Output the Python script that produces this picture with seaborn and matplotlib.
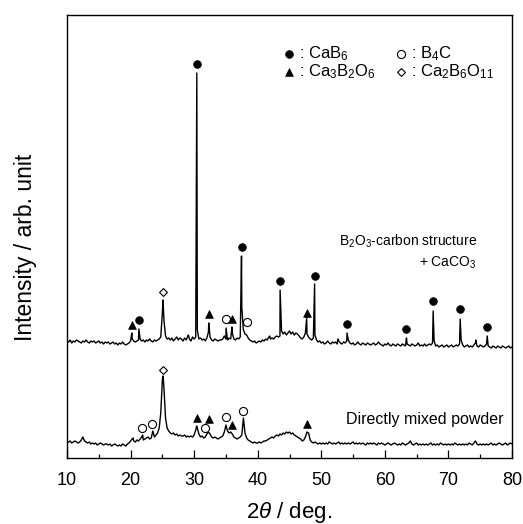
import numpy as np
import pandas as pd
import matplotlib
matplotlib.use("Agg")
import matplotlib.pyplot as plt
import seaborn as sns

# ---------------- data ----------------
# 2-theta scan grid (deg), 0.25 deg step from 10 to 80
scan_2theta = np.linspace(10, 80, 281)

# Upper pattern: B2O3-carbon structure + CaCO3 (baseline read on the grid)
upper_grid = [117,
    116,118,115,117,116,118,117,116,
    115,117,116,118,116,115,117,116,
    117,115,116,117,115,116,114,116,
    115,116,114,115,116,114,115,113,
    115,114,116,114,113,114,115,117,
    119,117,116,117,118,119,117,118,
    116,118,117,119,117,116,118,117,
    118,119,121,145,138,122,119,120,
    118,120,117,119,121,118,120,119,
    117,120,118,122,119,117,121,119,
    121,128,119,120,118,119,117,120,
    126,121,118,117,119,118,117,118,
    118,119,122,119,118,120,119,125,
    119,118,120,119,121,150,128,124,
    123,120,118,117,116,117,115,116,
    117,116,118,117,119,118,121,119,
    120,119,121,122,121,122,127,124,
    126,123,125,127,124,126,123,125,
    124,122,120,119,121,125,124,121,
    119,118,120,123,118,116,117,115,
    116,114,115,117,115,114,116,115,
    116,114,117,115,114,116,115,117,
    118,115,114,115,113,114,116,114,
    113,115,114,113,115,114,113,114,
    115,113,114,116,114,113,112,114,
    113,115,113,112,114,113,112,114,
    113,112,114,113,112,114,113,112,
    114,113,112,113,115,112,113,112,
    114,112,113,114,113,115,117,112,
    113,111,112,113,111,112,113,111,
    112,113,111,112,113,112,114,118,
    113,111,112,113,111,112,111,113,
    115,112,111,113,112,111,112,114,
    112,111,110,112,111,110,112,111,
    110,112,111,110,111,112,110,111]
# sharp peak tips of the upper pattern
upper_peak_2theta = [20.2, 21.3, 25.1, 29.1, 30.42, 32.3, 35.02, 35.95, 37.45,
                     41.9, 43.52, 47.7, 48.95, 52.6, 54.05, 63.4, 67.6, 71.85,
                     74.3, 76.1]
upper_peak_int = [125, 129, 158, 123, 385, 135, 130, 131, 202,
                  122, 168, 140, 174, 119, 125, 120, 147, 139,
                  118, 122]

# Lower pattern: directly mixed powder
lower_grid = [15,
    16,17,15,16,17,16,15,16,
    18,21,17,16,15,16,14,15,
    14,15,13,14,15,14,13,14,
    14,13,14,12,13,14,13,12,
    13,12,14,13,12,14,15,17,
    19,17,16,18,17,19,21,18,
    19,20,21,19,20,27,21,23,
    25,30,45,78,70,40,30,27,
    25,24,25,23,24,22,23,22,
    22,23,21,22,21,22,21,23,
    28,30,24,21,22,20,21,24,
    26,24,21,20,21,20,19,20,
    21,22,26,33,27,25,26,24,
    21,20,19,20,21,23,40,25,
    20,18,17,16,15,16,15,15,
    16,15,16,17,17,18,19,20,
    21,20,22,23,22,24,23,25,
    24,26,25,26,24,25,23,22,
    21,20,19,17,18,21,26,25,
    18,16,15,16,15,14,15,14,
    15,14,15,14,16,15,14,15,
    14,15,16,14,15,14,15,14,
    15,14,15,16,14,15,14,15,
    14,15,14,13,15,14,15,14,
    15,14,13,15,14,15,14,13,
    14,15,14,13,14,15,14,13,
    14,13,15,14,13,14,15,17,
    14,13,14,15,13,14,13,14,
    13,14,13,14,15,13,14,13,
    14,13,15,14,13,14,13,14,
    13,14,13,15,14,13,14,13,
    14,13,14,13,15,14,13,15,
    17,14,13,14,13,14,13,14,
    13,14,15,13,14,13,14,15,
    14,13,14,15,13,14,15,14]
lower_peak_2theta = [20.4, 21.9, 25.12, 30.4]
lower_peak_int = [20, 23, 82, 32]

# Phase markers (2theta, marker height)
phases = ["CaB6", "B4C", "Ca3B2O6", "Ca2B6O11"]
phase_labels = [": CaB$_6$", ": B$_4$C", ": Ca$_3$B$_2$O$_6$", ": Ca$_2$B$_6$O$_{11}$"]
mark_CaB6_x = [21.35, 30.4, 37.5, 43.5, 49.0, 54.05, 63.4, 67.6, 71.8, 76.0]
mark_CaB6_y = [138, 394, 211, 177, 182, 134, 129, 157, 149, 131]
mark_B4C_x = [35.0, 38.36, 21.8, 23.37, 31.75, 34.96, 37.74]
mark_B4C_y = [139, 136, 30, 34, 30, 41, 47]
mark_Ca3B2O6_x = [20.3, 32.3, 36.0, 47.75, 30.4, 32.35, 35.95, 47.75]
mark_Ca3B2O6_y = [133, 144, 139, 145, 40, 39, 33, 34]
mark_Ca2B6O11_x = [25.05, 25.05]
mark_Ca2B6O11_y = [166, 88]

sample_labels = ["B$_2$O$_3$-carbon structure\n+ CaCO$_3$", "Directly mixed powder"]

# ---------------- style ----------------
sns.set_style("ticks")
plt.rcParams["font.family"] = ["Liberation Sans", "DejaVu Sans"]
plt.rcParams["mathtext.fontset"] = "custom"
plt.rcParams["mathtext.rm"] = "Liberation Sans"
plt.rcParams["mathtext.it"] = "Liberation Sans:italic"
plt.rcParams["mathtext.bf"] = "Liberation Sans:bold"
plt.rcParams["text.color"] = "black"
plt.rcParams["axes.labelcolor"] = "black"
plt.rcParams["xtick.color"] = "black"
plt.rcParams["ytick.color"] = "black"

fig = plt.figure(figsize=(5.23, 5.24), dpi=100)
ax = fig.add_axes([67/523, 66/524, 445/523, 443/524])

def pattern_frame(grid, px, py):
    df = pd.DataFrame({"two_theta": np.concatenate([scan_2theta, px]),
                       "intensity": np.concatenate([np.array(grid, float), py])})
    return df.sort_values("two_theta", kind="stable").reset_index(drop=True)

up = pattern_frame(upper_grid, upper_peak_2theta, upper_peak_int)
lo = pattern_frame(lower_grid, lower_peak_2theta, lower_peak_int)
for df in (up, lo):
    sns.lineplot(data=df, x="two_theta", y="intensity", color="black",
                 linewidth=1.0, estimator=None, sort=False, ax=ax)

marker_style = {
    "CaB6": dict(marker="o", s=30, facecolor="black", edgecolor="black", linewidth=0.6),
    "B4C": dict(marker="o", s=34, facecolor="white", edgecolor="black", linewidth=0.8),
    "Ca3B2O6": dict(marker="^", s=30, facecolor="black", edgecolor="black", linewidth=0.6),
    "Ca2B6O11": dict(marker="D", s=16, facecolor="white", edgecolor="black", linewidth=0.8),
}
mark_x = {"CaB6": mark_CaB6_x, "B4C": mark_B4C_x, "Ca3B2O6": mark_Ca3B2O6_x,
          "Ca2B6O11": mark_Ca2B6O11_x}
mark_y = {"CaB6": mark_CaB6_y, "B4C": mark_B4C_y, "Ca3B2O6": mark_Ca3B2O6_y,
          "Ca2B6O11": mark_Ca2B6O11_y}
for ph in phases:
    sns.scatterplot(x=mark_x[ph], y=mark_y[ph], ax=ax, zorder=5, **marker_style[ph])

# legend (manual, 2 columns)
leg_pos = [(0.499, 0.912), (0.750, 0.912), (0.499, 0.871), (0.750, 0.871)]
for ph, lab, (lx, ly) in zip(phases, phase_labels, leg_pos):
    ax.scatter([lx], [ly], transform=ax.transAxes, zorder=6, clip_on=False,
               **marker_style[ph])
    ax.text(lx + 0.022, ly, lab, transform=ax.transAxes, fontsize=12,
            ha="left", va="center")

ax.text(0.921, 0.466, sample_labels[0], transform=ax.transAxes, fontsize=10,
        ha="right", va="center", linespacing=1.35, multialignment="right")
ax.text(0.980, 0.088, sample_labels[1], transform=ax.transAxes, fontsize=11.5,
        ha="right", va="center")

ax.set_xlim(10, 80)
ax.set_ylim(0, 443)
ax.set_xticks(np.arange(10, 81, 10))
ax.set_xticks(np.arange(15, 80, 10), minor=True)
ax.set_yticks([])
ax.tick_params(axis="x", which="major", direction="in", length=5.8, width=0.9,
               labelsize=13, pad=10, top=False)
ax.tick_params(axis="x", which="minor", direction="in", length=2.9, width=0.9, top=False)
for sp in ax.spines.values():
    sp.set_visible(True)
    sp.set_linewidth(1.0)
    sp.set_color("black")

ax.set_xlabel("2$\\theta$ / deg.", fontsize=16)
ax.xaxis.label.set_va("center")
ax.xaxis.set_label_coords(0.5, -0.124)
ax.set_ylabel("Intensity / arb. unit", fontsize=16.5)
ax.yaxis.label.set_va("center")
ax.yaxis.set_label_coords(-0.094, 0.476)

fig.savefig("out.png", dpi=100)
